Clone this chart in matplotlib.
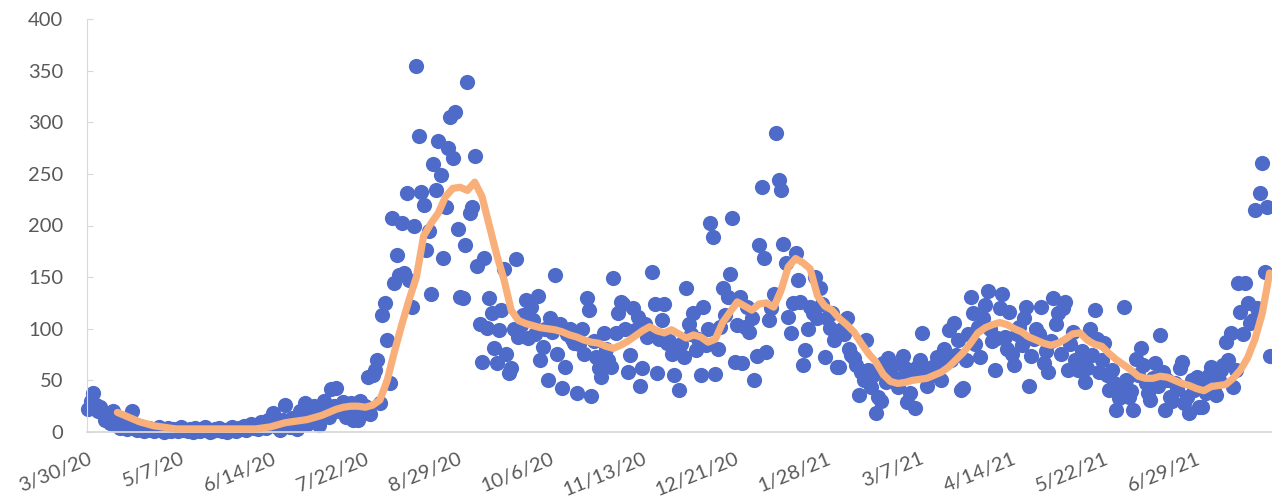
import matplotlib
matplotlib.use("Agg")
import matplotlib.pyplot as plt
import pandas as pd

# daily values, one per day from 3/30/20
daily_cases = [
    22, 30, 38, 26, 20, 24, 18, 12, 15, 9, 20, 7, 12, 4,
    8, 5, 3, 6, 20, 4, 2, 3, 5, 1, 2, 4, 3, 1, 2, 5, 3, 0, 2, 4, 1, 3, 2, 1, 5, 2,
    2, 1, 3, 0, 4, 2, 1, 3, 5, 2, 0, 1, 3, 2, 4, 1, 2, 0, 3, 5, 2, 1, 4, 3, 6, 2, 5, 8, 4, 7, 3, 10, 6, 4, 12, 8,
    18, 6, 10, 2, 12, 26, 8, 5, 14, 10, 3, 20, 12, 28, 8, 15, 18, 25, 12, 7, 22, 30, 20, 15, 42, 25, 43, 20, 26, 29,
    15, 22, 28, 12, 25, 12, 30, 18, 25,
    53, 17, 55, 60, 70, 28, 113, 125, 89, 47, 207, 144, 171, 152, 202, 154, 231, 147, 121, 200,
    354, 287, 232, 220, 176, 195, 134, 260, 234, 282, 249, 169, 218, 275, 305, 265, 310, 197, 131, 130,
    181, 339, 212, 218, 267, 161, 105, 68, 169, 101, 130, 115, 81, 67,
    99, 118, 158, 76, 57, 62, 100, 168, 92, 104, 113, 128, 91, 121, 108, 95, 132, 70, 82, 100,
    50, 110, 97, 152, 76, 105, 43, 63, 95, 100, 90, 86, 38, 85, 100, 76, 130, 118, 35, 88,
    73, 62, 53, 96, 80, 70, 63, 149,
    96, 115, 126, 124, 100, 58, 75, 120, 99, 111, 45, 62, 105, 92, 95, 155, 124, 57, 90, 108,
    124, 86, 88, 76, 55, 82, 41, 85, 73, 139, 105, 95, 115, 79, 90, 55, 121, 84, 100, 202,
    189, 56, 80, 102, 139, 113, 131, 153, 207, 68, 104,
    131, 67, 102, 121, 97, 110, 50, 74, 181, 237, 169, 77, 108, 120, 134, 290, 244, 234, 182, 164,
    111, 96, 125, 173, 147, 126, 65, 79, 100, 121, 115, 150, 110, 139, 124, 73, 110, 101, 115, 89, 63,
    63, 100, 95, 110, 80, 75, 72, 65, 36, 58, 50, 89, 60, 44, 55, 18, 34, 30, 67, 48,
    72, 57, 65, 52, 44, 50, 74, 62, 29, 38, 55, 23, 63, 70, 96, 58, 45, 60, 63, 55,
    73, 66, 50, 80, 74, 99, 70, 106, 75, 89, 41,
    43, 70, 95, 131, 115, 85, 102, 73, 110, 123, 137, 100, 88, 60, 91, 120, 134, 92, 80, 116,
    76, 65, 95, 102, 84, 110, 121, 45, 74, 90, 100, 95, 121, 67, 78, 58, 88, 130, 105, 115,
    76, 120, 126, 60, 85, 97, 70, 60,
    67, 78, 48, 62, 100, 75, 118, 90, 58, 70, 86, 55, 41, 60, 47, 21, 33, 45, 121, 50,
    34, 40, 21, 71, 55, 81, 65, 47, 38, 31, 52, 67, 45, 94, 58, 21, 50, 34, 30, 47,
    42, 62, 68, 28, 34, 18, 50, 41, 53, 24,
    24, 45, 38, 55, 63, 40, 36, 50, 60, 65, 87, 70, 96, 44, 60, 144, 116, 95, 144, 125,
    106, 108, 215, 120, 231, 261, 155, 218, 74,
]

# moving average read every 3 days, starting 4/11/20
ma_values = [
    19, 16, 13, 10, 8, 6, 5, 4, 3, 3,
    3, 3, 3, 3, 3, 3, 3, 3, 3, 3,
    4, 5, 7, 9, 10, 11, 12, 14, 16, 19,
    22, 24, 25, 25, 24, 26, 31, 50, 78, 104,
    128, 150, 190, 202, 212, 228, 236, 237, 234, 242,
    228, 200, 172, 148, 118, 108, 105, 103, 101, 100,
    99, 97, 94, 92, 89, 87, 86, 83, 81, 84,
    88, 93, 98, 102, 98, 96, 99, 95, 91, 94,
    92, 87, 90, 106, 116, 126, 122, 118, 124, 125,
    121, 137, 160, 168, 164, 158, 132, 122, 118, 110,
    104, 97, 86, 76, 68, 56, 49, 47, 48, 50,
    51, 52, 55, 58, 63, 70, 77, 86, 96, 101,
    104, 106, 104, 100, 97, 92, 89, 86, 84, 86,
    90, 95, 96, 89, 85, 83, 76, 70, 65, 60,
    54, 52, 52, 54, 53, 50, 47, 45, 42, 40,
    44, 45, 46, 52, 60, 72, 90, 115, 154,
]

start = pd.Timestamp("2020-03-30")
dates = pd.date_range(start, periods=len(daily_cases), freq="D")
ma_dates = pd.date_range("2020-04-11", periods=len(ma_values), freq="3D")
tick_dates = pd.date_range(start, periods=13, freq="38D")
tick_labels = [f"{d.month}/{d.day}/{d.strftime('%y')}" for d in tick_dates]

plt.rcParams["font.family"] = ["Lato", "DejaVu Sans"]

fig = plt.figure(figsize=(12.72, 5.0), dpi=100)
ax = fig.add_axes([0.0684, 0.136, 0.9316, 0.826])

ax.scatter(dates, daily_cases, s=120, color="#4F6BC9", linewidths=0,
           zorder=2, clip_on=False)
ax.plot(ma_dates, ma_values, color="#F9AF7A", lw=5.2, zorder=3,
        solid_joinstyle="round", solid_capstyle="round", clip_on=False)

ax.set_ylim(0, 400)
ax.set_yticks(range(0, 401, 50))
ax.set_xlim(start - pd.Timedelta(days=0.5), start + pd.Timedelta(days=487))
ax.set_xticks(tick_dates)
ax.set_xticklabels(tick_labels, rotation=22, ha="right", va="top",
                   rotation_mode="anchor")

for s in ["top", "right"]:
    ax.spines[s].set_visible(False)
ax.spines["left"].set_color("#D9D9D9")
ax.spines["bottom"].set_color("#D9D9D9")
ax.spines["bottom"].set_linewidth(1.3)
ax.set_axisbelow(True)

ax.tick_params(axis="y", direction="in", length=4.5, color="#D9D9D9",
               labelsize=14.5, labelcolor="#595959", pad=17)
ax.tick_params(axis="x", length=0, labelsize=14.5, labelcolor="#595959", pad=13)

fig.savefig("out.png", dpi=100)
